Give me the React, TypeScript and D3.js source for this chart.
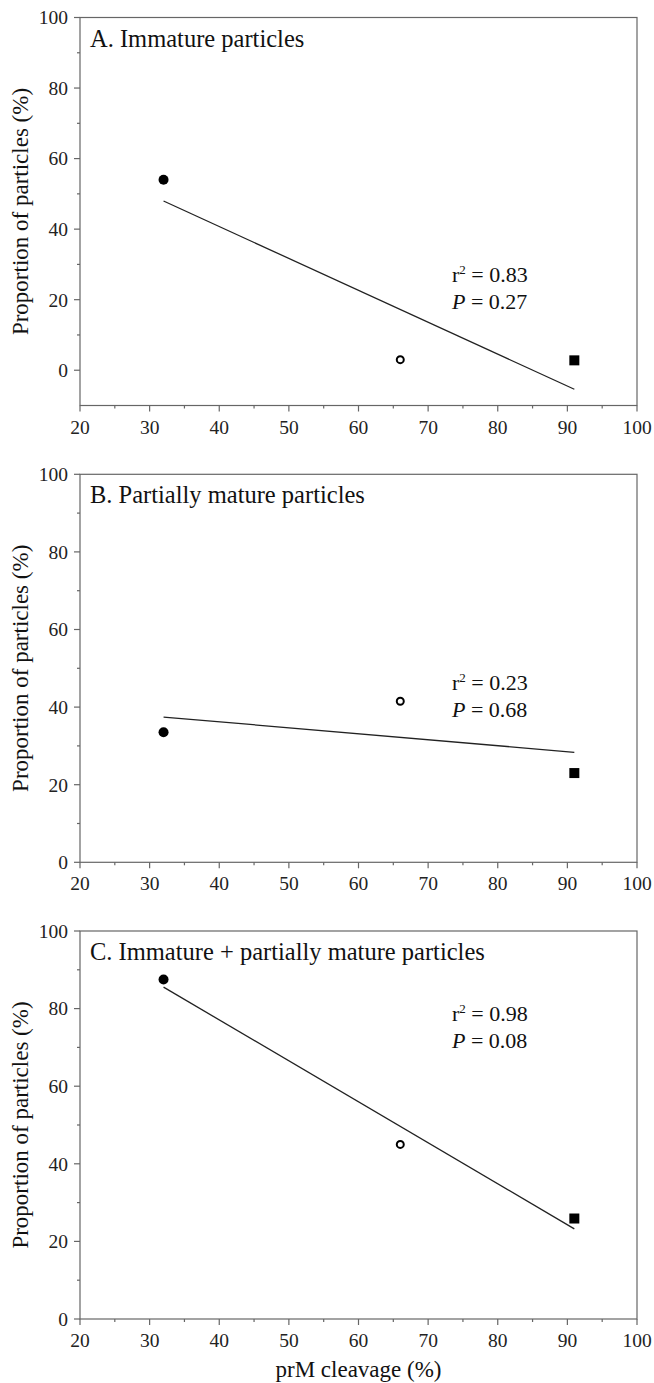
import React, { useEffect, useRef } from "react";
import * as d3 from "d3";

// prM cleavage (%) for the three virus preparations
const cleavage = [32, 66, 91];
const markerKinds = ["filled", "open", "square"];

// proportion of particles (%)
const immature = [54, 3, 2.8];
const partial = [33.5, 41.5, 23];
const combined = [87.5, 45, 25.9];

const titles = [
  "A. Immature particles",
  "B. Partially mature particles",
  "C. Immature + partially mature particles",
];
const rSquared = ["0.83", "0.23", "0.98"];
const pValues = ["0.27", "0.68", "0.08"];
const yDomains: [number, number][] = [
  [-10, 100],
  [0, 100],
  [0, 100],
];
const xTicks = [20, 30, 40, 50, 60, 70, 80, 90, 100];
const yTicks = [0, 20, 40, 60, 80, 100];

const App = () => {
  const ref = useRef<SVGSVGElement>(null);

  useEffect(() => {
    drawChart();
  }, []);

  function drawChart() {
    const svg = d3.select(ref.current);
    svg.selectAll("*").remove();

    const font = "'Liberation Serif', 'Times New Roman', serif";
    const axisColor = "#666";
    const left = 80;
    const right = 637;
    const panelTops = [17.5, 474.3, 931];
    const plotHeight = 388;
    // baseline of the r² line, measured from the panel top
    const annOffset = [264.5, 215.7, 90];
    const series = [immature, partial, combined];

    const x = d3.scaleLinear().domain([20, 100]).range([left, right]);

    series.forEach((values, i) => {
      const top = panelTops[i];
      const bottom = top + plotHeight;
      const y = d3.scaleLinear().domain(yDomains[i]).range([bottom, top]);
      const g = svg.append("g");

      // frame
      g.append("rect")
        .attr("x", left)
        .attr("y", top)
        .attr("width", right - left)
        .attr("height", bottom - top)
        .attr("fill", "none")
        .attr("stroke", axisColor)
        .attr("stroke-width", 1.2);

      // x ticks
      const xMinor = d3.range(25, 100, 10);
      g.selectAll(".xmaj")
        .data(xTicks)
        .join("line")
        .attr("x1", (d) => x(d))
        .attr("x2", (d) => x(d))
        .attr("y1", bottom)
        .attr("y2", bottom + 6)
        .attr("stroke", axisColor)
        .attr("stroke-width", 1.2);
      g.selectAll(".xmin")
        .data(xMinor)
        .join("line")
        .attr("x1", (d) => x(d))
        .attr("x2", (d) => x(d))
        .attr("y1", bottom)
        .attr("y2", bottom + 3)
        .attr("stroke", axisColor)
        .attr("stroke-width", 1.2);
      g.selectAll(".xlab")
        .data(xTicks)
        .join("text")
        .attr("x", (d) => x(d))
        .attr("y", bottom + 28)
        .attr("text-anchor", "middle")
        .attr("font-family", font)
        .attr("font-size", 19.5)
        .attr("fill", "#222")
        .text((d) => d);

      // y ticks
      const yMinor = d3.range(yDomains[i][0] < 0 ? -10 : 10, 100, 20).filter((d) => d > yDomains[i][0]);
      g.selectAll(".ymaj")
        .data(yTicks)
        .join("line")
        .attr("x1", left - 6)
        .attr("x2", left)
        .attr("y1", (d) => y(d))
        .attr("y2", (d) => y(d))
        .attr("stroke", axisColor)
        .attr("stroke-width", 1.2);
      g.selectAll(".ymin")
        .data(yMinor)
        .join("line")
        .attr("x1", left - 3)
        .attr("x2", left)
        .attr("y1", (d) => y(d))
        .attr("y2", (d) => y(d))
        .attr("stroke", axisColor)
        .attr("stroke-width", 1.2);
      g.selectAll(".ylab")
        .data(yTicks)
        .join("text")
        .attr("x", left - 12)
        .attr("y", (d) => y(d))
        .attr("dy", "0.35em")
        .attr("text-anchor", "end")
        .attr("font-family", font)
        .attr("font-size", 19.5)
        .attr("fill", "#222")
        .text((d) => d);

      // y axis title
      g.append("text")
        .attr("transform", `translate(28, ${(top + bottom) / 2}) rotate(-90)`)
        .attr("text-anchor", "middle")
        .attr("font-family", font)
        .attr("font-size", 23)
        .attr("fill", "#111")
        .text("Proportion of particles (%)");

      // panel title
      g.append("text")
        .attr("x", left + 10)
        .attr("y", top + 29)
        .attr("font-family", font)
        .attr("font-size", 24.5)
        .attr("fill", "#111")
        .text(titles[i]);

      // least squares fit
      const mx = d3.mean(cleavage) as number;
      const my = d3.mean(values) as number;
      const sxy = d3.sum(cleavage, (c, k) => (c - mx) * (values[k] - my));
      const sxx = d3.sum(cleavage, (c) => (c - mx) ** 2);
      const slope = sxy / sxx;
      const ends = d3.extent(cleavage) as [number, number];
      const line = d3
        .line<number>()
        .x((d) => x(d))
        .y((d) => y(my + slope * (d - mx)));
      g.append("path")
        .datum(ends)
        .attr("d", line)
        .attr("fill", "none")
        .attr("stroke", "#222")
        .attr("stroke-width", 1.3);

      // points
      cleavage.forEach((c, k) => {
        const kind = markerKinds[k];
        if (kind === "square") {
          g.append("rect")
            .attr("x", x(c) - 5)
            .attr("y", y(values[k]) - 5)
            .attr("width", 10)
            .attr("height", 10)
            .attr("fill", "#000");
        } else if (kind === "open") {
          g.append("circle")
            .attr("cx", x(c))
            .attr("cy", y(values[k]))
            .attr("r", 3.5)
            .attr("fill", "#fff")
            .attr("stroke", "#000")
            .attr("stroke-width", 2);
        } else {
          g.append("circle")
            .attr("cx", x(c))
            .attr("cy", y(values[k]))
            .attr("r", 5)
            .attr("fill", "#000");
        }
      });

      // statistics
      const ax = 452;
      const ay = top + annOffset[i];
      const ann = g
        .append("text")
        .attr("font-family", font)
        .attr("font-size", 22)
        .attr("fill", "#111");
      ann.append("tspan").attr("x", ax).attr("y", ay).text("r");
      ann.append("tspan").attr("dy", -8).attr("font-size", 13).text("2");
      ann.append("tspan").attr("dy", 8).text(" = " + rSquared[i]);
      const ann2 = g
        .append("text")
        .attr("x", ax)
        .attr("y", ay + 27)
        .attr("font-family", font)
        .attr("font-size", 22)
        .attr("fill", "#111");
      ann2.append("tspan").attr("font-style", "italic").text("P");
      ann2.append("tspan").text(" = " + pValues[i]);
    });

    // x axis title (bottom panel only)
    svg
      .append("text")
      .attr("x", (left + right) / 2)
      .attr("y", 1377)
      .attr("text-anchor", "middle")
      .attr("font-family", font)
      .attr("font-size", 23)
      .attr("fill", "#111")
      .text("prM cleavage (%)");
  }

  return (
    <svg
      ref={ref}
      width={654}
      height={1383}
      style={{ position: "absolute", left: 0, top: 0, background: "#fff" }}
    />
  );
};

export default App;
